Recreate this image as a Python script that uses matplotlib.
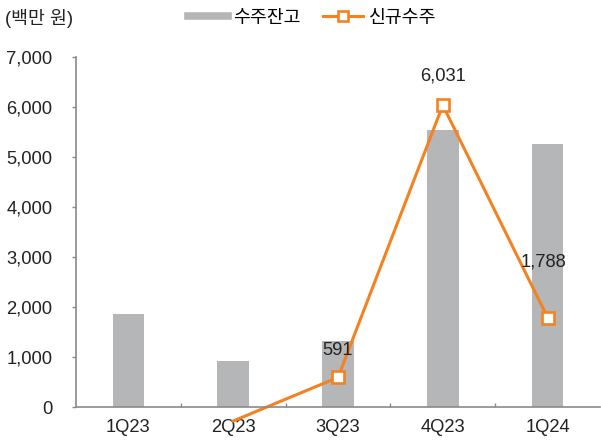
import numpy as np
import matplotlib
matplotlib.use("Agg")
import matplotlib.pyplot as plt
from matplotlib.lines import Line2D

plt.rcParams['font.family'] = ['Liberation Sans', 'Noto Sans CJK KR', 'DejaVu Sans']

quarters = ['1Q23', '2Q23', '3Q23', '4Q23', '1Q24']
backlog = [1860, 910, 1320, 5540, 5260]      # 수주잔고
new_orders = [None, -280, 591, 6031, 1788]   # 신규수주
label_offsets = [0, 0, 27, 29, 56]           # pixels above marker

bar_color = '#b5b6b8'
line_color = '#f58220'
axis_color = '#8a8a8a'
fs = 13.2

fig = plt.figure(figsize=(6.01, 4.41), dpi=100)
ax = fig.add_axes([76/601, 34/441, 524/601, 350.3/441])

x = np.arange(len(quarters))
ax.bar(x, backlog, width=0.3, color=bar_color, zorder=1)

# line (below-zero part runs past the axis, no marker there)
lx = [i for i, v in enumerate(new_orders) if v is not None]
ly = [v for v in new_orders if v is not None]
ax.plot(lx, ly, color=line_color, lw=2.2, zorder=2, clip_on=False)
mx = [i for i, v in zip(lx, ly) if v >= 0]
my = [v for v in ly if v >= 0]
ax.plot(mx, my, ls='none', marker='s', ms=8.5, mfc='white', mec=line_color,
        mew=1.9, zorder=3, clip_on=False)

for i, v in zip(lx, ly):
    if v < 0:
        continue
    dx = -4 if i == 4 else 0
    ax.annotate(f'{v:,}', (i, v), xytext=(dx * 0.72, label_offsets[i] * 0.72),
                textcoords='offset points', ha='center', va='center',
                fontsize=fs, color='#222222', zorder=4)

ax.set_xlim(-0.5, 4.5)
ax.set_ylim(0, 7000)
ax.set_yticks(range(0, 7001, 1000))
ax.set_yticklabels([f'{v:,}' for v in range(0, 7001, 1000)])
ax.set_xticks([0.5, 1.5, 2.5, 3.5])
ax.set_xticklabels([])
ax.set_xticks(x, minor=True)
ax.set_xticklabels(quarters, minor=True)

ax.tick_params(axis='y', direction='out', length=3, width=1, color=axis_color,
               pad=14, labelsize=fs, labelcolor='#222222')
ax.tick_params(axis='x', which='major', direction='in', length=3, width=1,
               color=axis_color)
ax.tick_params(axis='x', which='minor', length=0, pad=8.5, labelsize=fs,
               labelcolor='#222222')

for s in ['top', 'right']:
    ax.spines[s].set_visible(False)
for s in ['left', 'bottom']:
    ax.spines[s].set_color(axis_color)
    ax.spines[s].set_linewidth(1.2)

fig.text(5/601, 1 - 18/441, '(백만 원)', ha='left', va='center', fontsize=fs,
         color='#222222')

handles = [
    Line2D([], [], color=bar_color, lw=5.5),
    Line2D([], [], color=line_color, lw=2.2, marker='s', ms=7, mfc='white',
           mec=line_color, mew=1.9),
]
fig.legend(handles, ['수주잔고', '신규수주'], loc='center', ncol=2,
           bbox_to_anchor=(312/601, 1 - 18/441), frameon=False,
           fontsize=fs, handlelength=2.2, handletextpad=0.3, columnspacing=1.2)

fig.savefig('out.png', dpi=100)
